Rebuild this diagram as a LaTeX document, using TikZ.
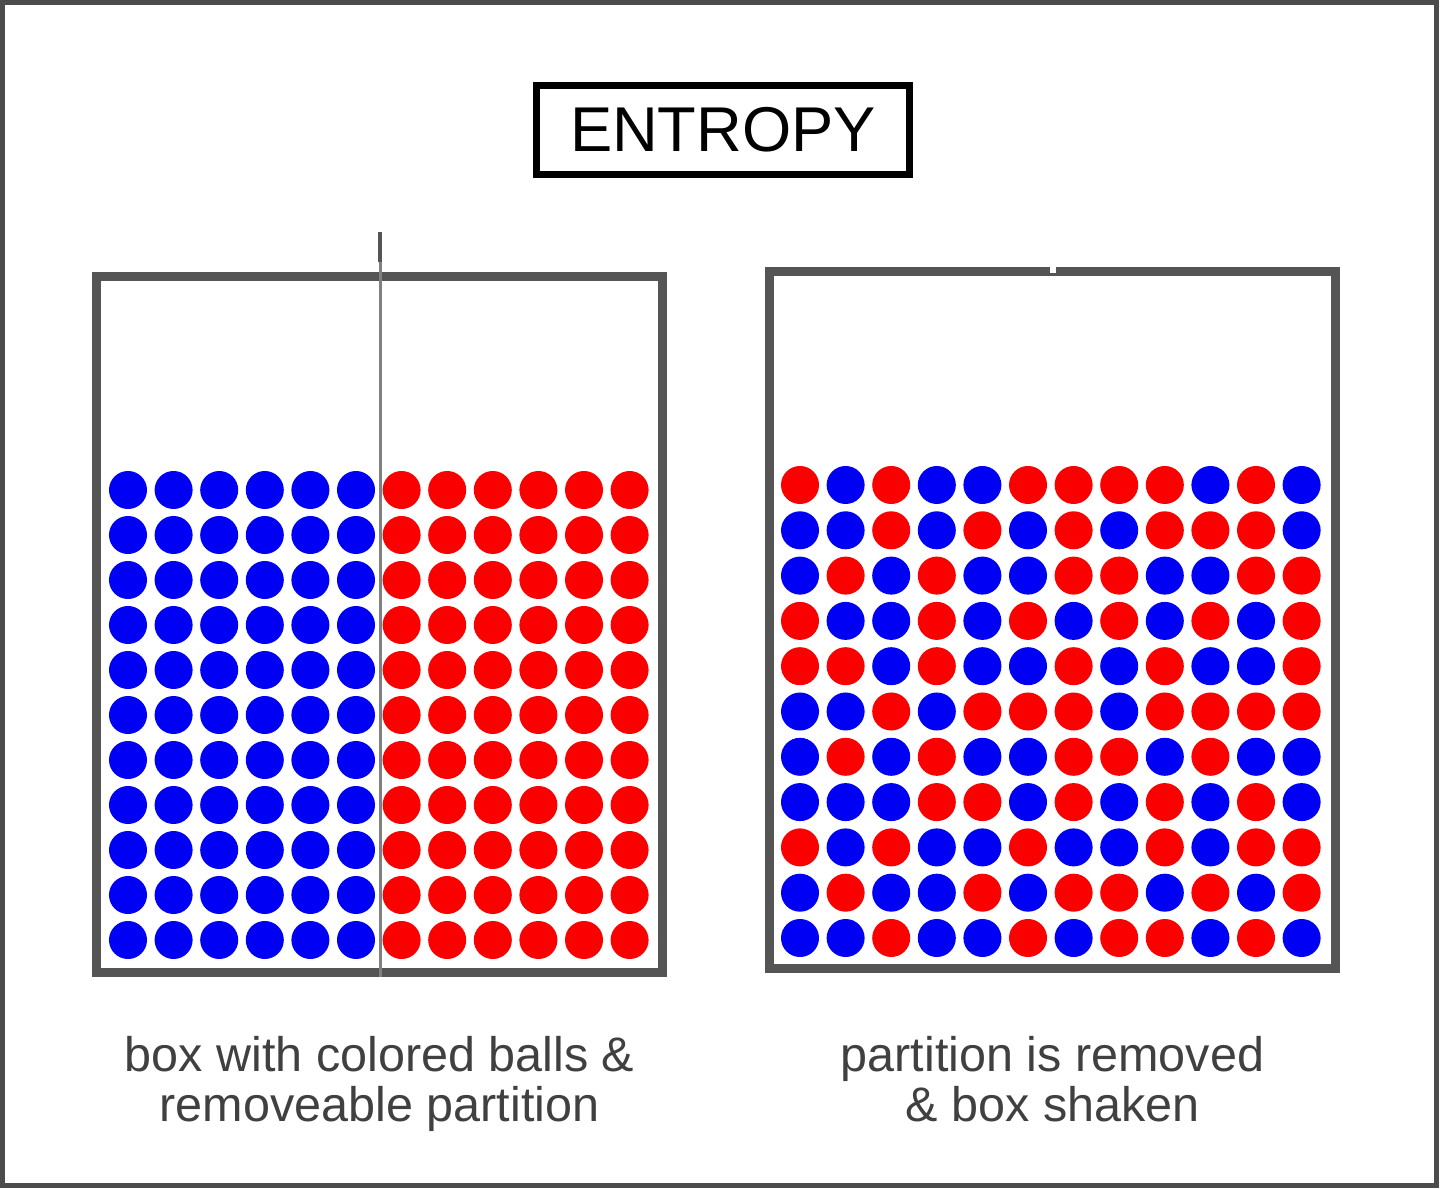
\documentclass[tikz,border=0pt]{standalone}
\usepackage{fontspec}
\setmainfont{Liberation Sans}
\usetikzlibrary{positioning}
\definecolor{ballred}{RGB}{250,0,0}
\definecolor{ballblue}{RGB}{0,0,245}
\colorlet{R}{ballred}
\colorlet{B}{ballblue}
\definecolor{boxgray}{RGB}{85,85,85}

\begin{document}
\begin{tikzpicture}[x=0.01cm, y=-0.01cm,
		container/.style={draw=boxgray, line width=0.09cm, minimum width=5.65cm, minimum height=6.95cm, inner sep=0},
		caption/.style={align=center, inner sep=0, text=black!75, font=\fontsize{13.8}{14.3}\selectfont}]
		\useasboundingbox (0,0) rectangle (1440,1189);
		\draw[black!70, line width=0.05cm] (2.5,2.5) rectangle (1436,1185);
		\node[draw, line width=0.07cm, minimum width=3.73cm, minimum height=0.88cm, font=\fontsize{18}{20}\selectfont](title) at (723,130) {ENTROPY};
		\node[container](leftbox) at (379.5,624.5) {};
		\node[container, minimum height=6.96cm](rightbox) at (1052.5,620) {};
		\fill[white] (rightbox.north) ++(-3,-6) rectangle ++(6,12);
		
		% balls before the partition is removed
		\foreach \row in {0,...,10}
			\foreach \col in {0,...,11} {
				\ifnum\col<6 \def\c{B}\else\def\c{R}\fi
				\fill[fill=\c] (128+45.6*\col, 490+45*\row) circle[radius=0.19cm];
			}
		\coordinate (handle) at (380,232);
		\draw[gray, line width=0.03cm] (handle) -- (leftbox.south -| handle);
		\draw[boxgray, line width=0.045cm] (handle) -- ++(0,30);
		
		% balls after shaking
		\foreach \row [count=\j from 0] in {
				{R,B,R,B,B,R,R,R,R,B,R,B},{B,B,R,B,R,B,R,B,R,R,R,B},
				{B,R,B,R,B,B,R,R,B,B,R,R},{R,B,B,R,B,R,B,R,B,R,B,R},
				{R,R,B,R,B,B,R,B,R,B,B,R},{B,B,R,B,R,R,R,B,R,R,R,R},
				{B,R,B,R,B,B,R,R,B,R,B,B},{B,B,B,R,R,B,R,B,R,B,R,B},
				{R,B,R,B,B,R,B,B,R,B,R,R},{B,R,B,B,R,B,R,R,B,R,B,R},
				{B,B,R,B,B,R,B,R,R,B,R,B}}
			\foreach \c [count=\i from 0] in \row
				\fill[fill=\c] (800+45.6*\i, 485+45.3*\j) circle[radius=0.19cm];
		
		\node[caption, below=0.585cm of leftbox](leftcap) {box with colored balls \&\\removeable partition};
		\node[caption, below=0.625cm of rightbox](rightcap) {partition is removed\\\& box shaken};
	\end{tikzpicture}
\end{document}
